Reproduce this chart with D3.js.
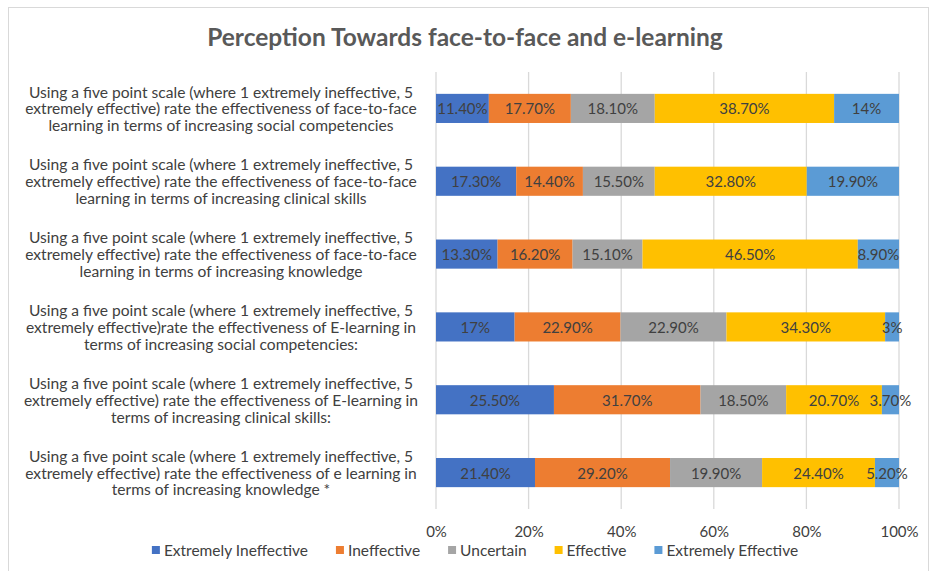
<!DOCTYPE html>
<html>
<head>
<meta charset="utf-8">
<script src="https://cdn.jsdelivr.net/npm/d3@7"></script>
<style>
  body { margin: 0; background: #fff; }
  text { font-family: Lato, "Open Sans", sans-serif; fill: #404040; }
</style>
</head>
<body>
<script>
// Categories (top to bottom), line breaks as in the original chart
var questions = [
  "Using a five point scale (where 1 extremely ineffective, 5\nextremely effective) rate the effectiveness of face-to-face\nlearning in terms of increasing social competencies",
  "Using a five point scale (where 1 extremely ineffective, 5\nextremely effective) rate the effectiveness of face-to-face\nlearning in terms of increasing clinical skills",
  "Using a five point scale (where 1 extremely ineffective, 5\nextremely effective) rate the effectiveness of face-to-face\nlearning in terms of increasing knowledge",
  "Using a five point scale (where 1 extremely ineffective, 5\nextremely effective)rate the effectiveness of E-learning in\nterms of increasing social competencies:",
  "Using a five point scale (where 1 extremely ineffective, 5\nextremely effective) rate the effectiveness of E-learning in\nterms of increasing clinical skills:",
  "Using a five point scale (where 1 extremely ineffective, 5\nextremely effective) rate the effectiveness of e learning in\nterms of increasing knowledge *"
];

// Series names and colours
var seriesNames = ["Extremely Ineffective", "Ineffective", "Uncertain", "Effective", "Extremely Effective"];
var seriesColors = ["#4472C4", "#ED7D31", "#A5A5A5", "#FFC000", "#5B9BD5"];

// Values (percent), one array per series, in question order
var extremelyIneffective = [11.4, 17.3, 13.3, 17, 25.5, 21.4];
var ineffective          = [17.7, 14.4, 16.2, 22.9, 31.7, 29.2];
var uncertain            = [18.1, 15.5, 15.1, 22.9, 18.5, 19.9];
var effective            = [38.7, 32.8, 46.5, 34.3, 20.7, 24.4];
var extremelyEffective   = [14, 19.9, 8.9, 3, 3.7, 5.2];

// Labels as printed on the bars
var labelsEI = ["11.40%", "17.30%", "13.30%", "17%", "25.50%", "21.40%"];
var labelsI  = ["17.70%", "14.40%", "16.20%", "22.90%", "31.70%", "29.20%"];
var labelsU  = ["18.10%", "15.50%", "15.10%", "22.90%", "18.50%", "19.90%"];
var labelsE  = ["38.70%", "32.80%", "46.50%", "34.30%", "20.70%", "24.40%"];
var labelsEE = ["14%", "19.90%", "8.90%", "3%", "3.70%", "5.20%"];

var xTicks = [0, 0.2, 0.4, 0.6, 0.8, 1];

var seriesValues = [extremelyIneffective, ineffective, uncertain, effective, extremelyEffective];
var seriesLabels = [labelsEI, labelsI, labelsU, labelsE, labelsEE];

// Table for d3.stack
var rows = questions.map(function(q, i) {
  var r = {question: q};
  seriesNames.forEach(function(s, j) { r[s] = seriesValues[j][i]; });
  return r;
});

var width = 930, height = 571;
var plot = {left: 436, right: 899, top: 72, bottom: 509};

var svg = d3.select("body").append("svg")
  .attr("width", width)
  .attr("height", height);

// Chart border
svg.append("rect")
  .attr("x", 8.5).attr("y", 7.5)
  .attr("width", 920).attr("height", 580)
  .attr("fill", "#fff")
  .attr("stroke", "#D9D9D9");

// Title
svg.append("text")
  .attr("x", 465).attr("y", 36)
  .attr("text-anchor", "middle")
  .attr("dominant-baseline", "central")
  .style("font-size", "24.5px")
  .style("font-weight", "bold")
  .style("fill", "#595959")
  .text("Perception Towards face-to-face and e-learning");

// Scales
var xScale = d3.scaleLinear().domain([0, 1]).range([plot.left, plot.right]);
var yScale = d3.scaleBand()
  .domain(questions)
  .range([plot.top, plot.bottom])
  .paddingInner(0.6)
  .paddingOuter(0.3);

// Gridlines
svg.append("g")
  .selectAll("line")
  .data(xTicks)
  .enter().append("line")
  .attr("x1", function(d) { return xScale(d); })
  .attr("x2", function(d) { return xScale(d); })
  .attr("y1", plot.top)
  .attr("y2", plot.bottom)
  .attr("stroke", "#D9D9D9")
  .attr("stroke-width", 1.3);

// Stacked to 100%
var stack = d3.stack().keys(seriesNames).offset(d3.stackOffsetExpand);
var layers = stack(rows);

var layer = svg.selectAll(".layer")
  .data(layers)
  .enter().append("g")
  .attr("class", "layer")
  .attr("fill", function(d, i) { return seriesColors[i]; });

layer.selectAll("rect")
  .data(function(d) { return d; })
  .enter().append("rect")
  .attr("x", function(d) { return xScale(d[0]); })
  .attr("y", function(d) { return yScale(d.data.question); })
  .attr("width", function(d) { return xScale(d[1]) - xScale(d[0]); })
  .attr("height", yScale.bandwidth());

// Data labels
layers.forEach(function(l, j) {
  svg.append("g").selectAll("text")
    .data(l)
    .enter().append("text")
    .attr("x", function(d) { return (xScale(d[0]) + xScale(d[1])) / 2; })
    .attr("y", function(d) { return yScale(d.data.question) + yScale.bandwidth() / 2; })
    .attr("text-anchor", "middle")
    .attr("dominant-baseline", "central")
    .style("font-size", "15px")
    .text(function(d, i) { return seriesLabels[j][i]; });
});

// Category labels
var catLabels = svg.append("g").selectAll("text")
  .data(questions)
  .enter().append("text")
  .attr("text-anchor", "middle")
  .attr("transform", function(d) {
    return "translate(221," + (yScale(d) + yScale.bandwidth() / 2) + ")";
  })
  .style("font-size", "15.6px");

catLabels.each(function(d) {
  var lines = d.split("\n");
  var t = d3.select(this);
  lines.forEach(function(line, k) {
    t.append("tspan")
      .attr("x", 0)
      .attr("y", (k - (lines.length - 1) / 2) * 16.8)
      .attr("dominant-baseline", "central")
      .text(line);
  });
});

// X axis labels
var xAxis = d3.axisBottom(xScale)
  .tickValues(xTicks)
  .tickSize(0)
  .tickFormat(d3.format(".0%"));

var axisG = svg.append("g")
  .attr("transform", "translate(0," + (plot.bottom + 14) + ")")
  .call(xAxis);
axisG.select(".domain").remove();
axisG.selectAll("text")
  .style("font-family", "Lato, sans-serif")
  .style("font-size", "15px")
  .style("fill", "#404040");

// Legend
var legend = svg.append("g").attr("transform", "translate(0,550)");
var items = legend.selectAll("g")
  .data(seriesNames)
  .enter().append("g");
items.append("rect")
  .attr("x", 0).attr("y", -4)
  .attr("width", 8).attr("height", 8)
  .attr("fill", function(d, i) { return seriesColors[i]; });
items.append("text")
  .attr("x", 12)
  .attr("dominant-baseline", "central")
  .style("font-size", "15.5px")
  .text(function(d) { return d; });

var gap = 28;
var widths = [];
items.each(function() { widths.push(this.getBBox().width); });
var total = d3.sum(widths) + gap * (widths.length - 1);
var xPos = 475 - total / 2;
items.attr("transform", function(d, i) {
  var x = xPos;
  xPos += widths[i] + gap;
  return "translate(" + x + ",0)";
});
</script>
</body>
</html>
